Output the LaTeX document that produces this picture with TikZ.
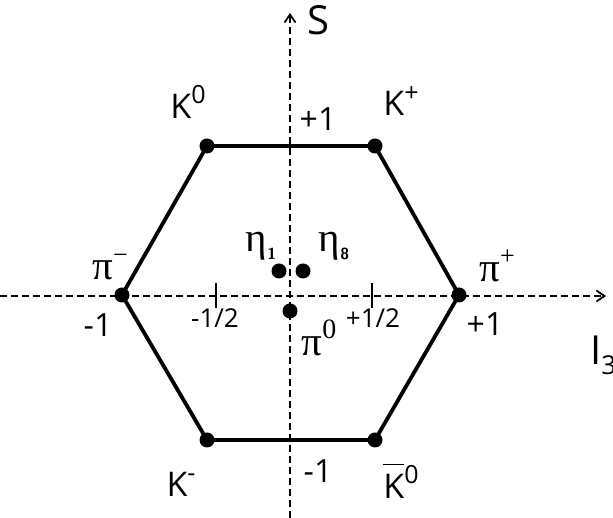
\documentclass[tikz,border=0pt]{standalone}
\usepackage{fontspec}
\setmainfont{Open Sans}
\newfontfamily\gk{Liberation Serif}
\usetikzlibrary{arrows.meta}
\tikzset{
  axisline/.style={line width=2.2pt, dash pattern=on 7pt off 4pt, -{Straight Barb[length=8pt,width=11pt,line width=1.8pt]}},
  hexline/.style={line width=3.8pt, line join=round},
  dotnode/.style={circle, fill=black, inner sep=0pt, minimum size=15pt},
  ticknode/.style={line width=2pt},
  biglbl/.style={font=\fontsize{34}{38}\selectfont, inner sep=0pt},
  numlbl/.style={font=\fontsize{32}{36}\selectfont, inner sep=0pt},
  halflbl/.style={font=\fontsize{26}{30}\selectfont, inner sep=0pt},
  gklbl/.style={font=\gk\fontsize{41}{44}\selectfont, inner sep=0pt}
}
\newcommand{\supsc}[1]{\raisebox{0.42em}{\fontsize{25}{27}\selectfont #1}}
\begin{document}
\begin{tikzpicture}[x=1pt,y=1pt]
\useasboundingbox (0,0) rectangle (613,518);
% axes
\coordinate (hL) at (0,222);
\coordinate (hR) at (606,222);
\coordinate (vB) at (290,0);
\coordinate (vT) at (290,505);
\draw[axisline] (hL) -- (hR);
\draw[axisline] (vB) -- (vT);
% ticks
\coordinate (t1a) at (216,235); \coordinate (t1b) at (216,210);
\coordinate (t2a) at (372,235); \coordinate (t2b) at (372,210);
\draw[ticknode] (t1a) -- (t1b);
\draw[ticknode] (t2a) -- (t2b);
% hexagon vertices
\node[dotnode] (k0) at (207,372) {};
\node[dotnode] (kp) at (375,372) {};
\node[dotnode] (pip) at (459,223) {};
\node[dotnode] (kb0) at (375,78) {};
\node[dotnode] (km) at (207,78) {};
\node[dotnode] (pim) at (122,223) {};
\draw[hexline] (k0.center) -- (kp.center) -- (pip.center) -- (kb0.center) -- (km.center) -- (pim.center) -- cycle;
% center dots
\node[dotnode] (eta1) at (279,247) {};
\node[dotnode] (eta8) at (303,247) {};
\node[dotnode] (pi0) at (290,207) {};
% labels
\node[biglbl] (lk0) at (188,416) {K\supsc{0}};
\node[biglbl] (lkp) at (401,417) {K\supsc{+}};
\node[numlbl] (lp1) at (318,399) {+1};
\node[biglbl,font=\fontsize{40}{44}\selectfont] (lS) at (318,498) {S};
\node[gklbl] (leta1) at (261,272) {η\raisebox{-0.2em}{\fontsize{16}{17}\selectfont\bfseries\sffamily 1}};
\node[gklbl] (leta8) at (334,272) {η\raisebox{-0.2em}{\fontsize{16}{17}\selectfont\bfseries\sffamily 8}};
\node[gklbl] (lpim) at (110,251) {π\raisebox{0.4em}{\fontsize{26}{28}\selectfont −}};
\node[gklbl] (lpip) at (497,252) {π\raisebox{0.4em}{\fontsize{26}{28}\selectfont +}};
\node[gklbl] (lpi0) at (319,180) {π\raisebox{0.4em}{\fontsize{28}{30}\selectfont 0}};
\node[numlbl] (lm1) at (98,193) {-1};
\node[halflbl] (lmh) at (215,200) {-1/2};
\node[halflbl] (lph) at (373,200) {+1/2};
\node[numlbl] (lr1) at (485,194) {+1};
\node[biglbl,font=\fontsize{40}{44}\selectfont,anchor=west] (lI3) at (590,163) {I\raisebox{-0.25em}{\fontsize{26}{28}\selectfont 3}};
\node[biglbl] (lkm) at (181,34) {K\supsc{-}};
\node[biglbl] (lkb0) at (401,37) {$\overline{\hbox{\rule{0pt}{0.95em}K}}$\supsc{0}};
\node[numlbl] (lb1) at (318,47) {-1};
\end{tikzpicture}
\end{document}
